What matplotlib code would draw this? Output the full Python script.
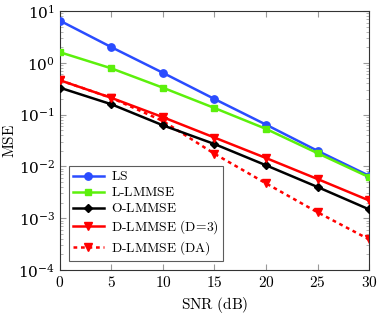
import matplotlib
matplotlib.use("Agg")
import matplotlib.pyplot as plt
from matplotlib.ticker import LogLocator, NullFormatter

plt.rcParams['mathtext.fontset'] = 'cm'
plt.rcParams['font.family'] = ['DejaVu Serif']

snr = [0, 5, 10, 15, 20, 25, 30]
ls = [6.5, 2.0, 0.64, 0.2, 0.064, 0.020, 0.0066]
l_lmmse = [1.6, 0.78, 0.33, 0.134, 0.053, 0.018, 0.0062]
o_lmmse = [0.33, 0.158, 0.062, 0.027, 0.0105, 0.004, 0.00148]
d_lmmse3 = [0.46, 0.21, 0.089, 0.036, 0.0145, 0.0057, 0.0022]
d_lmmse_da = [0.46, 0.21, 0.075, 0.0175, 0.0047, 0.0013, 0.00039]

labels = [r'$\mathrm{LS}$', r'$\mathrm{L\text{-}LMMSE}$', r'$\mathrm{O\text{-}LMMSE}$',
          r'$\mathrm{D\text{-}LMMSE\ (D\!=\!3)}$', r'$\mathrm{D\text{-}LMMSE\ (DA)}$']

fig = plt.figure(figsize=(3.82, 3.15), dpi=100)
ax = fig.add_axes([0.157, 0.143, 0.809, 0.822])

lw = 1.8
ax.plot(snr, d_lmmse_da, color='#ff0000', lw=lw, ls=(0, (1.5, 1.5)), marker='v', ms=5.5, label=labels[4], zorder=2)
ax.plot(snr, ls, color='#2a4cff', lw=lw, marker='o', ms=5.3, label=labels[0], zorder=3)
ax.plot(snr, l_lmmse, color='#5cf00c', lw=lw, marker='s', ms=4.7, label=labels[1], zorder=3)
ax.plot(snr, o_lmmse, color='black', lw=lw, marker='D', ms=4, label=labels[2], zorder=3)
ax.plot(snr, d_lmmse3, color='#ff0000', lw=lw, marker='v', ms=5.5, label=labels[3], zorder=3)

ax.set_yscale('log')
ax.set_xlim(0, 30)
ax.set_ylim(1e-4, 1e1)
ax.set_xticks(snr)
ax.set_xticklabels([f'${v}$' for v in snr])
ax.yaxis.set_major_locator(LogLocator(base=10, numticks=10))
ax.yaxis.set_minor_locator(LogLocator(base=10, subs=range(2, 10), numticks=20))
ax.yaxis.set_minor_formatter(NullFormatter())
ax.tick_params(which='both', direction='in', top=True, right=True, labelsize=11)
ax.tick_params(which='major', length=4, color='#999999')
ax.tick_params(which='minor', length=2.5, color='#aaaaaa')
for s in ax.spines.values():
    s.set_linewidth(0.8)
    s.set_color('#333333')

ax.set_xlabel(r'$\mathrm{SNR\ (dB)}$', fontsize=11)
ax.set_ylabel(r'$\mathrm{MSE}$', fontsize=11)
ax.yaxis.set_label_coords(-0.14, 0.5)

h, l = ax.get_legend_handles_labels()
order = [1, 2, 3, 4, 0]
leg = ax.legend([h[i] for i in order], [l[i] for i in order], loc='lower left',
                bbox_to_anchor=(0.029, 0.035), borderaxespad=0, fontsize=9.7, frameon=True,
                fancybox=False, edgecolor='#333333', handlelength=2.3, borderpad=0.3,
                labelspacing=0.22, handletextpad=0.5)
leg.get_frame().set_linewidth(0.8)

fig.savefig('out.png', dpi=100)
